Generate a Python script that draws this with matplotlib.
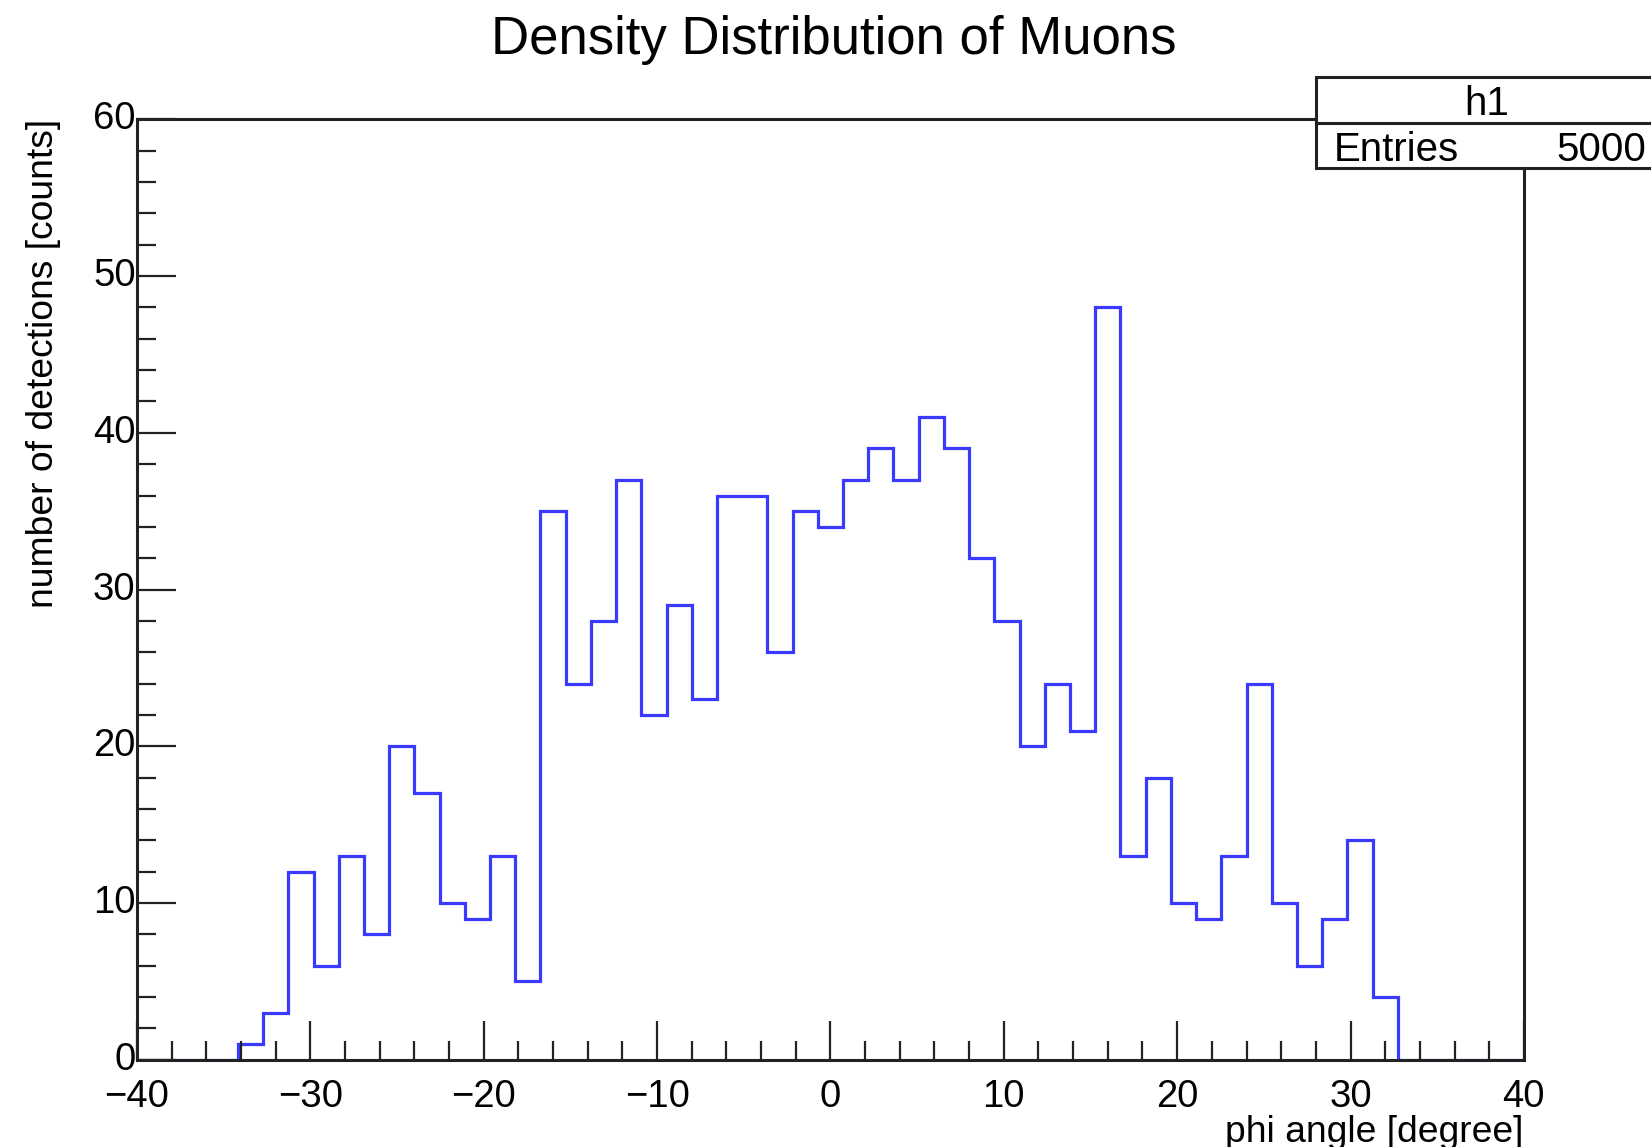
import numpy as np
import matplotlib
matplotlib.use('Agg')
import matplotlib.pyplot as plt
import matplotlib.transforms as mtransforms
from matplotlib.patches import Rectangle
from matplotlib.ticker import MultipleLocator

# histogram h1: 55 bins on [-40, 40], counts
x_min, x_max, n_bins = -40, 40, 55
counts = [0, 0, 0, 0,
          1, 3, 12, 6, 13, 8, 20, 17, 10, 9, 13, 5,
          35, 24, 28, 37, 22, 29, 23, 36, 36, 26,
          35, 34, 37, 39, 37, 41, 39, 32, 28, 20,
          24, 21, 48, 13, 18, 10, 9, 13, 24, 10,
          6, 9, 14, 4,
          0, 0, 0, 0, 0]
entries = 5000
hist_name = "h1"
title = "Density Distribution of Muons"
x_label = "phi angle [degree]"
y_label = "number of detections [counts]"

plt.rcParams['font.family'] = ['Liberation Sans', 'DejaVu Sans']

fig = plt.figure(figsize=(16.51, 11.47), dpi=100)
ax = fig.add_axes([0.083, 0.076, 0.84, 0.82])

edges = np.linspace(x_min, x_max, n_bins + 1)
ax.stairs(counts, edges, color='#3a3aff', lw=2.3, zorder=1)

ax.set_xlim(x_min, x_max)
ax.set_ylim(0, 60)
ax.xaxis.set_major_locator(MultipleLocator(10))
ax.xaxis.set_minor_locator(MultipleLocator(2))
ax.yaxis.set_major_locator(MultipleLocator(10))
ax.yaxis.set_minor_locator(MultipleLocator(2))
ax.tick_params(which='both', direction='in', top=False, right=False,
               color='#222222', width=1.6)
ax.tick_params(which='major', length=28, labelsize=27.5)
ax.tick_params(which='minor', length=14)
ax.tick_params(axis='x', pad=14)
ax.tick_params(axis='y', pad=1)
for s in ax.spines.values():
    s.set_linewidth(2.2)
    s.set_color('#222222')
    s.set_zorder(3)

# lift y tick labels a hair so "0" clears "-40"
lift = mtransforms.ScaledTranslation(0, 4 / 100, fig.dpi_scale_trans)
for lab in ax.get_yticklabels():
    lab.set_transform(lab.get_transform() + lift)

ax.set_xlabel(x_label, loc='right', fontsize=26.8, labelpad=0)
ax.set_ylabel(y_label, loc='top', fontsize=26.8, labelpad=23)

fig.text(0.505, 0.965, title, ha='center', va='center', fontsize=38)

# stats box (runs off the right edge like the original)
box_x0, box_y0 = 1316 / 1651, 1 - 168 / 1147
fig.add_artist(Rectangle((box_x0, box_y0), 0.3, (168 - 77) / 1147,
                         transform=fig.transFigure, fill=True, fc='white',
                         ec='#222222', lw=2.2, zorder=5))
fig.add_artist(plt.Line2D([box_x0, 1.0], [1 - 123 / 1147] * 2,
                          transform=fig.transFigure, color='#222222', lw=2.2, zorder=6))
fig.text(1487 / 1651, 1 - 104 / 1147, hist_name, ha='center', va='center', fontsize=29, zorder=7)
fig.text(1334 / 1651, 1 - 150 / 1147, "Entries", ha='left', va='center', fontsize=29, zorder=7)
fig.text(1646 / 1651, 1 - 150 / 1147, str(entries), ha='right', va='center', fontsize=29, zorder=7)

fig.savefig('out.png', dpi=100)
